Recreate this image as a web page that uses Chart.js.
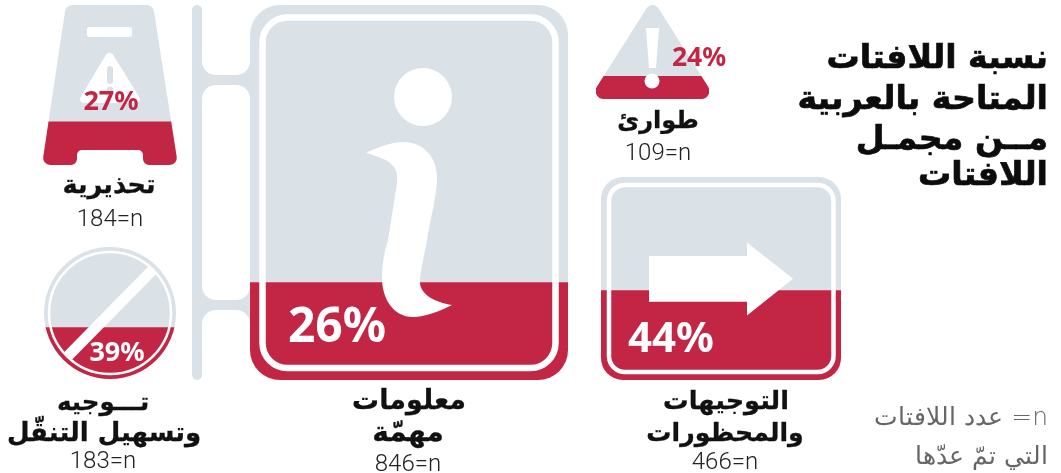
<!DOCTYPE html>
<html lang="ar"><head><meta charset="utf-8">
<script src="https://cdn.jsdelivr.net/npm/chart.js@4"></script>
<style>
html,body{margin:0;padding:0;background:#fff;width:1061px;height:473px;overflow:hidden}
canvas{position:absolute;left:0;top:0}
.t{position:absolute;white-space:nowrap;line-height:1;transform:translate(-50%,-50%);color:#111}
.cat{font:700 25px "DejaVu Sans";direction:rtl;-webkit-text-stroke:.3px #111}
.n{font:300 24px Roboto;direction:ltr;color:#222}
.pct{font:700 27px "Noto Sans";direction:ltr}
.title{font:700 33.2px "DejaVu Sans";direction:rtl;transform:translate(-100%,-50%);color:#0c0c0c;-webkit-text-stroke:.7px #0c0c0c}
.note{font:200 25px "DejaVu Sans";direction:rtl;transform:translate(-100%,-50%);color:#666}
</style></head><body>
<script>
const categories=['تحذيرية','تـــوجيه|وتسهيل التنقّل','معلومات|مهمّة','طوارئ','التوجيهات|والمحظورات'];
const percentAvailable=[27,39,26,24,44];
const signCounts=[184,183,846,109,466];
const titleLines=['نسبة اللافتات','المتاحة بالعربية','مــن مجمـل','اللافتات'];
const noteLines=['n= عدد اللافتات','التي تمّ عدّها'];

const W=1061,H=473,RED='#c32645',GREY='#dae2e7',WHITE='#ffffff';

function rr(c,x,y,w,h,r){c.beginPath();c.roundRect(x,y,w,h,r);}
function poly(c,pts,r){ // rounded closed polygon
  c.beginPath();
  const n=pts.length,m=[(pts[0][0]+pts[n-1][0])/2,(pts[0][1]+pts[n-1][1])/2];
  c.moveTo(m[0],m[1]);
  for(let i=0;i<n;i++){const p=pts[i],q=pts[(i+1)%n],rad=Array.isArray(r)?r[i]:r;c.arcTo(p[0],p[1],q[0],q[1],rad);}
  c.closePath();
}
const boardPts=[[66,5],[153,5],[178,165],[143,165],[143,150],[77,150],[77,165],[42,165]];
const boardR=[7,7,7,6,5,5,6,7];

const signs=[
 {box:[43,5,177,165],
  clip:c=>poly(c,boardPts,boardR),
  front:c=>{
    c.fillStyle=WHITE;rr(c,87,27,45,10,3);c.fill();
    poly(c,[[109.5,49],[143,103],[77,103]],4);c.fill();
    c.fillStyle=GREY;rr(c,107,66,6,18,3);c.fill();
    c.beginPath();c.arc(110,90,3.5,0,7);c.fill();
  }},
 {box:[44,247,176,379],
  clip:c=>{c.beginPath();c.arc(110,313,66,0,Math.PI*2);},
  front:c=>{
    c.strokeStyle=WHITE;c.lineWidth=2.5;c.beginPath();c.arc(110,313,61,0,Math.PI*2);c.stroke();
    c.lineWidth=11;c.beginPath();c.moveTo(152.5,270);c.lineTo(67,357);c.stroke();
  }},
 {box:[250,5,568,380],
  back:c=>{
    c.fillStyle=GREY;rr(c,192,5,10,375,5);c.fill();
    c.fillRect(200,60,52,40);c.fillRect(200,285,52,40);
    c.fillStyle=WHITE;
    rr(c,202,-20,48,95,14);c.fill();
    rr(c,202,85,48,215,14);c.fill();
    rr(c,202,310,48,110,14);c.fill();
  },
  clip:c=>{rr(c,250,5,318,375,30);},
  front:c=>{
    c.strokeStyle=WHITE;c.lineWidth=6.5;rr(c,262.5,17.5,293,350.5,25);c.stroke();
    c.fillStyle=WHITE;c.beginPath();c.arc(423,97,29,0,Math.PI*2);c.fill();
    c.beginPath();c.moveTo(366,153);
    c.bezierCurveTo(378,147,392,142,403,142);
    c.bezierCurveTo(424,142,437,158,437,177);
    c.bezierCurveTo(437,195,431,215,427,240);
    c.bezierCurveTo(424,258,420,270,420,283);
    c.bezierCurveTo(421,295,435,302,452,305);
    c.bezierCurveTo(440,311,425,317,413,317);
    c.bezierCurveTo(393,317,382,298,382,278);
    c.bezierCurveTo(382,265,384,252,388,240);
    c.lineTo(397,183);
    c.bezierCurveTo(399,167,392,160,366,153);
    c.closePath();c.fill();
  }},
 {box:[596,5,709,99],
  clip:c=>poly(c,[[652.5,-1],[716,99],[589,99]],[7,8,8]),
  front:c=>{
    c.fillStyle=WHITE;c.beginPath();c.moveTo(646,28);c.lineTo(659,28);c.lineTo(656,68);c.lineTo(649,68);c.closePath();c.fill();
    c.beginPath();c.arc(652,81,7.5,0,Math.PI*2);c.fill();
  }},
 {box:[601,177,841,380],
  clip:c=>{rr(c,601,177,240,203,22);},
  front:c=>{
    c.strokeStyle=WHITE;c.lineWidth=4.5;rr(c,609,185,224.5,187,16);c.stroke();
    c.fillStyle=WHITE;c.beginPath();
    c.moveTo(649,256);c.lineTo(747,256);c.lineTo(747,242.5);c.lineTo(793,278.7);
    c.lineTo(747,315.5);c.lineTo(747,301.7);c.lineTo(649,301.7);c.closePath();c.fill();
  }}
];

signs.forEach((s,i)=>{
  const cv=document.createElement('canvas');cv.width=W;cv.height=H;document.body.appendChild(cv);
  new Chart(cv,{
    type:'bar',
    data:{labels:[categories[i].replace('|',' ')],datasets:[
      {data:[percentAvailable[i]],backgroundColor:RED,borderWidth:0,stack:'s'},
      {data:[100-percentAvailable[i]],backgroundColor:GREY,borderWidth:0,stack:'s'}]},
    options:{responsive:false,animation:false,events:[],
      layout:{padding:{left:s.box[0],top:s.box[1],right:W-s.box[2],bottom:H-s.box[3]}},
      datasets:{bar:{barPercentage:1,categoryPercentage:1}},
      plugins:{legend:{display:false},title:{display:false},tooltip:{enabled:false}},
      scales:{x:{display:false,stacked:true},y:{display:false,stacked:true,min:0,max:100}}},
    plugins:[{id:'signShape',
      beforeDatasetsDraw(ch){const c=ch.ctx;if(s.back){c.save();s.back(c);c.restore();}
        c.save();s.clip(c);c.clip();},
      afterDatasetsDraw(ch){const c=ch.ctx;c.restore();c.save();s.front(c);c.restore();}
    }]
  });
});

function text(cls,str,x,y,style){
  const d=document.createElement('div');d.className='t '+cls;d.textContent=str;
  d.style.left=x+'px';d.style.top=y+'px';d.style.zIndex=5;
  if(style)Object.assign(d.style,style);
  document.body.appendChild(d);return d;
}
// percentage labels
const pctPos=[[111,99,27,RED],[117,350,27,WHITE],[337,323,48,WHITE],[699,56,26.5,RED],[671,335,42,WHITE]];
percentAvailable.forEach((p,i)=>{const q=pctPos[i];text('pct',p+'%',q[0],q[1],{fontSize:q[2]+'px',color:q[3]});});
// category labels: x, y, font size per line
const catPos=[[[109,184,25.5]],[[103,401,24.5],[104,432,26]],[[409,399,27],[408,431,28]],[[658,120,24]],[[726,400,25.6],[725,432,25.2]]];
categories.forEach((c,i)=>c.split('|').forEach((l,j)=>text('cat',l,catPos[i][j][0],catPos[i][j][1],{fontSize:catPos[i][j][2]+'px'})));
// counts
const nPos=[[110,218],[103,460],[408,463],[658,152],[725,461]];
signCounts.forEach((n,i)=>text('n',n+'=n',nPos[i][0],nPos[i][1]));
// title and note
const titleY=[56,97,137,173];
titleLines.forEach((l,i)=>text('title',l,1048,titleY[i]));
const noteY=[416,455];
noteLines.forEach((l,i)=>text('note',l,1048,noteY[i]));
</script>
</body></html>
